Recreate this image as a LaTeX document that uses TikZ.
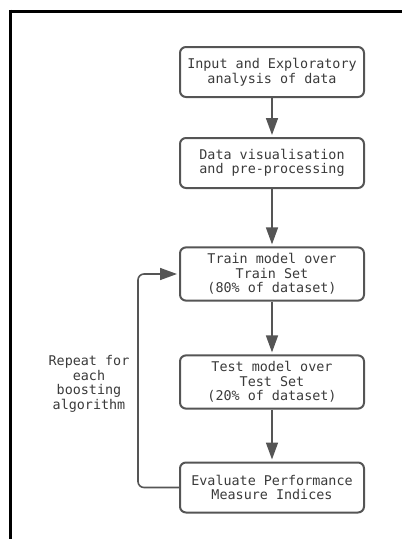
\documentclass[tikz,border=0pt]{standalone}
\usepackage{fontspec}
\newfontfamily\flowfont{DejaVu Sans Mono}
\usetikzlibrary{arrows.meta}
\definecolor{boxgrey}{HTML}{555555}
\definecolor{textgrey}{HTML}{3A3A3A}
\tikzset{
  stepbox/.style={draw=boxgrey, line width=2pt, rounded corners=6pt,
    minimum width=184pt, minimum height=50pt, inner sep=6pt, align=center,
    text=textgrey, font=\flowfont\fontsize{13.4}{14.6}\selectfont},
  flow/.style={draw=boxgrey, line width=1.6pt, shorten >=2pt,
    -{Triangle[length=17pt,width=12pt]}}
}

\begin{document}
\begin{tikzpicture}[x=1pt,y=-1pt]
            \useasboundingbox (0,0) rectangle (402,539);
            % frame lines at top and left
            \draw[line width=3pt] (9,11) -- (402,11);
            \draw[line width=3pt] (10,9.5) -- (10,539);

            % the steps
            \node (input) at (272,72) [stepbox]{Input and Exploratory\\analysis of data};
            \node (visual) at (272,163) [stepbox]{Data visualisation\\and pre-processing};
            \node (train) at (272,274) [stepbox]{Train model over\\Train Set\\(80\% of dataset)};
            \node (test) at (272,382) [stepbox]{Test model over\\Test Set\\(20\% of dataset)};
            \node (evaluate) at (272,487.5) [stepbox]{Evaluate Performance\\Measure Indices};

            % arrows down the column
            \draw[flow] (input) -- (visual);
            \draw[flow] (visual) -- (train);
            \draw[flow] (train) -- (test);
            \draw[flow] (test) -- (evaluate);

            % loop back for each algorithm
            \draw[flow, rounded corners=6pt] (evaluate.west) -| (138,330) |- (train.west);
            \node (repeat) at (89,384) [align=center, text=textgrey, font=\flowfont\fontsize{13.4}{14.6}\selectfont]{Repeat for\\each\\boosting\\algorithm};
\end{tikzpicture}
\end{document}
